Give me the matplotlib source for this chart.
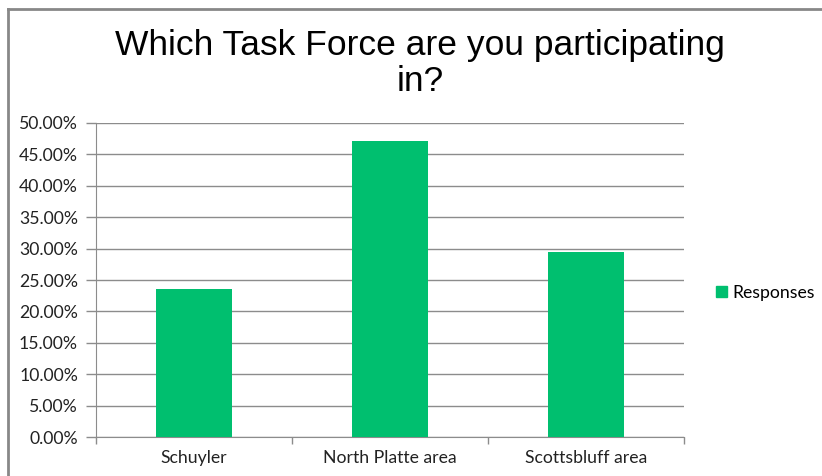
import matplotlib
matplotlib.use('Agg')
import matplotlib.pyplot as plt
from matplotlib.ticker import FuncFormatter, MultipleLocator
from matplotlib.lines import Line2D

categories = ['Schuyler', 'North Platte area', 'Scottsbluff area']
responses = [23.53, 47.06, 29.41]  # percent
title = 'Which Task Force are you participating\nin?'

bar_color = '#00BF6F'
grid_color = '#8C8C8C'
label_size = 12.7

fig = plt.figure(figsize=(8.22, 4.76), dpi=100)
ax = fig.add_axes([0.1168, 0.0819, 0.7153, 0.6597])

x = range(len(categories))
ax.bar(x, responses, width=0.39, color=bar_color, label='Responses', zorder=3)

ax.set_xlim(-0.5, len(categories) - 0.5)
ax.set_ylim(0, 50)
ax.yaxis.set_major_locator(MultipleLocator(5))
ax.yaxis.set_major_formatter(FuncFormatter(lambda v, p: f'{v:.2f}%'))
ax.grid(axis='y', color=grid_color, linewidth=1, zorder=0)

# category labels centred, ticks on the boundaries
ax.set_xticks(list(x))
ax.set_xticklabels(categories)
ax.tick_params(axis='x', length=0, pad=9)
ax.set_xticks([i - 0.5 for i in range(len(categories) + 1)], minor=True)
ax.tick_params(axis='x', which='minor', length=5, color=grid_color, width=1)
ax.tick_params(axis='y', length=7, color=grid_color, width=1, pad=6)

for lab in ax.get_xticklabels() + ax.get_yticklabels():
    lab.set_fontfamily('Lato')
    lab.set_fontsize(label_size)
    lab.set_color('#222222')

for s in ['top', 'right']:
    ax.spines[s].set_visible(False)
ax.spines['left'].set_color(grid_color)
ax.spines['bottom'].set_color(grid_color)

fig.text(0.511, 0.866, title, ha='center', va='center', fontsize=25.5,
         family='Liberation Sans', linespacing=1.12)

handle = [plt.Rectangle((0, 0), 1, 1, color=bar_color)]
fig.legend(handle, ['Responses'], loc='center left', bbox_to_anchor=(0.852, 0.385),
           frameon=False, handlelength=0.6, handleheight=0.6, handletextpad=0.3,
           prop={'family': 'Lato', 'size': label_size})

# outer chart border (top and left edges visible)
fig.add_artist(Line2D([0.0095, 0.0095], [0, 0.982], transform=fig.transFigure,
                      color='#888888', linewidth=2))
fig.add_artist(Line2D([0.0095, 1.0], [0.982, 0.982], transform=fig.transFigure,
                      color='#888888', linewidth=2))

fig.savefig('out.png', dpi=100)
